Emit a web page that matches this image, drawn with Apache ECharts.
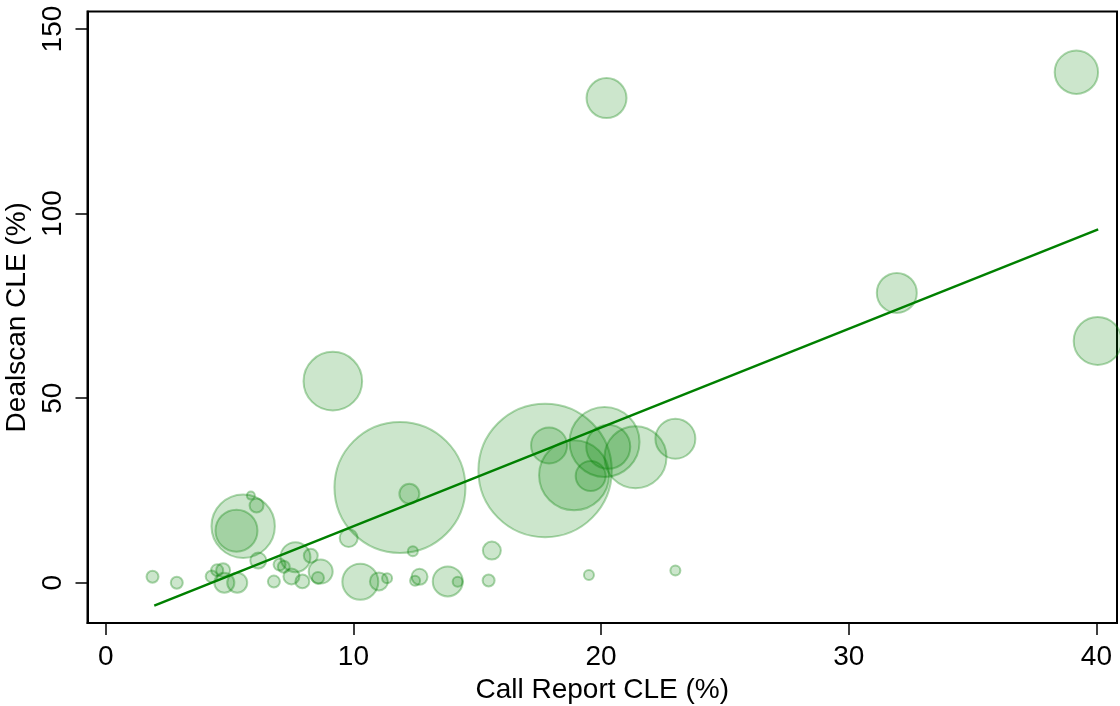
<!DOCTYPE html>
<html>
<head>
<meta charset="utf-8">
<script src="https://cdn.jsdelivr.net/npm/echarts@6/dist/echarts.min.js"></script>
<style>
  html, body { margin: 0; padding: 0; background: #fff; }
  #chart { width: 1120px; height: 706px; }
</style>
</head>
<body>
<div id="chart"></div>
<script>
// Call Report CLE (%) per bank
const callReportCLE = [1.89, 2.87, 4.28, 4.50, 4.74, 4.79, 5.31, 5.55, 5.28, 5.86, 6.09, 6.16, 6.79, 7.02, 7.19, 7.66, 8.28, 7.50, 7.94, 8.68, 8.57, 9.81, 11.88, 12.40, 10.28, 11.03, 11.36, 12.67, 12.49, 13.81, 14.21, 15.46, 15.59, 12.26, 17.74, 17.90, 18.91, 19.58, 20.14, 20.29, 21.39, 23.00, 19.51, 23.00, 20.22, 39.19, 31.94, 40.05, 9.17];
// Dealscan CLE (%) per bank
const dealscanCLE   = [1.6, 0.0, 1.7, 3.4, 3.4, 0.0, 0.0, 15.3, 14.1, 23.6, 20.9, 6.0, 0.3, 4.9, 4.3, 6.9, 7.3, 1.7, 0.35, 3.0, 1.3, 12.1, 25.8, 8.5, 0.27, 0.35, 1.2, 1.6, 0.5, 0.35, 0.27, 0.6, 8.7, 24.1, 30.4, 37.2, 29.1, 28.9, 38.1, 36.8, 34.0, 39.0, 2.1, 3.3, 131.3, 138.3, 78.5, 65.5, 54.6];
// Bubble weight (analytic weight, relative)
const bankWeight    = [4.0, 4.0, 4.0, 4.0, 5.4, 11.1, 11.1, 111.7, 49.0, 1.8, 5.4, 7.1, 4.0, 4.0, 4.0, 25.0, 5.4, 7.1, 5.4, 16.0, 4.0, 9.0, 476.7, 2.8, 36.0, 9.0, 2.8, 7.1, 2.8, 25.0, 2.8, 4.0, 9.0, 11.1, 494.3, 36.0, 136.1, 25.0, 136.1, 53.8, 106.8, 44.4, 2.8, 2.8, 44.4, 52.3, 44.4, 64.0, 95.4];
// Fitted line endpoints
const fitX = [1.96, 40.07];
const fitY = [-6.2, 95.7];
// Tick labels
const xTicks = [0, 10, 20, 30, 40];
const yTicks = [0, 50, 100, 150];

const points = callReportCLE.map((x, i) => [x, dealscanCLE[i], bankWeight[i]]);
const fitLine = fitX.map((x, i) => [x, fitY[i]]);

const FONT = "'Liberation Sans', Arial, sans-serif";
const chart = echarts.init(document.getElementById('chart'), null, { renderer: 'canvas' });

chart.setOption({
  backgroundColor: '#ffffff',
  animation: false,
  grid: {
    left: 87.5, right: 3, top: 11.5, bottom: 83,
    containLabel: false,
    outerBoundsMode: 'none',
    show: true, borderColor: '#000', borderWidth: 2, backgroundColor: 'transparent'
  },
  xAxis: {
    type: 'value',
    min: -0.735, max: 40.83,
    name: 'Call Report CLE (%)',
    nameLocation: 'middle',
    nameGap: 51,
    nameTextStyle: { fontFamily: FONT, fontSize: 28, color: '#000' },
    splitLine: { show: false },
    axisLine: { show: true, onZero: false, lineStyle: { color: '#000', width: 2 } },
    axisTick: { show: true, length: 12, customValues: xTicks, lineStyle: { color: '#000', width: 1.5 } },
    axisLabel: { customValues: xTicks, fontFamily: FONT, fontSize: 28, color: '#000', margin: 20 }
  },
  yAxis: {
    type: 'value',
    min: -10.92, max: 154.75,
    name: 'Dealscan CLE (%)',
    nameLocation: 'middle',
    nameGap: 46,
    nameRotate: 90,
    nameTextStyle: { fontFamily: FONT, fontSize: 28, color: '#000' },
    splitLine: { show: false },
    axisLine: { show: true, onZero: false, lineStyle: { color: '#000', width: 2 } },
    axisTick: { show: true, length: 12, customValues: yTicks, lineStyle: { color: '#000', width: 1.5 } },
    axisLabel: { customValues: yTicks, rotate: 90, fontFamily: FONT, fontSize: 28, color: '#000', margin: 20 }
  },
  series: [
    {
      type: 'scatter',
      data: points,
      symbol: 'circle',
      symbolSize: function (v) { return 6 * Math.sqrt(v[2]); },
      itemStyle: {
        color: 'rgba(0,128,0,0.25)',
        borderColor: 'rgba(0,128,0,0.4)',
        borderWidth: 2
      },
      emphasis: { disabled: true },
      clip: false,
      z: 2
    },
    {
      type: 'line',
      data: fitLine,
      showSymbol: false,
      symbol: 'none',
      lineStyle: { color: '#008000', width: 2.5 },
      emphasis: { disabled: true },
      z: 3
    }
  ]
});
</script>
</body>
</html>
